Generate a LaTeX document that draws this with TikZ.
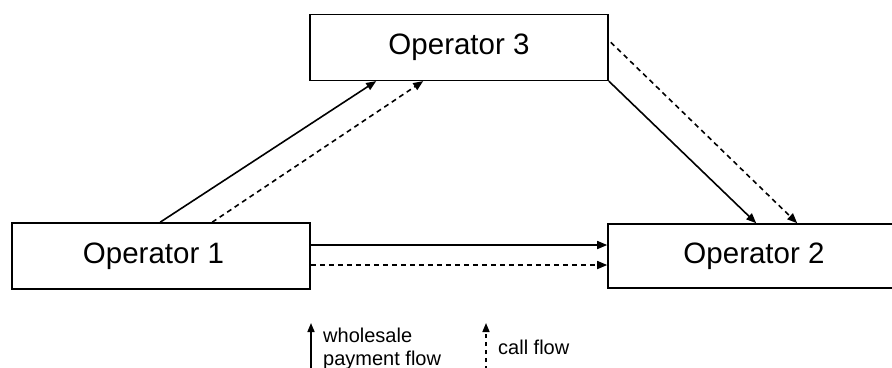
\documentclass[tikz,border=0pt]{standalone}
\usepackage{fontspec}
\setmainfont{Liberation Sans}
\usetikzlibrary{arrows.meta,calc}
\begin{document}
\begin{tikzpicture}[x=1pt,y=-1pt,
  opbox/.style={draw=black,line width=1.6pt,fill=white,inner sep=0pt,
    font=\fontsize{29.5}{34}\selectfont},
  flow/.style={line width=1.6pt,-{Triangle[length=10pt,width=8pt]}},
  callflow/.style={flow,dash pattern=on 5pt off 4pt},
  legtext/.style={font=\fontsize{20}{24}\selectfont,inner sep=0pt,anchor=base west,align=left}
]
\useasboundingbox (0,0) rectangle (892,367);
\fill[white] (0,0) rectangle (892,367);

\node[opbox,minimum width=298pt,minimum height=66pt] (op3) at (459,47.3) {\raisebox{-2pt}{Operator 3}};
\node[opbox,minimum width=298pt,minimum height=66pt] (op1) at (161,256) {\raisebox{-1pt}{Operator 1}\hspace*{15pt}};
\node[opbox,minimum width=292pt,minimum height=64pt] (op2) at (754,256) {Operator 2};

% Operator 1 -> Operator 3
\draw[flow] ($(op1.north west)+(149,0)$) -- ($(op3.south west)+(67,0)$);
\draw[callflow] ($(op1.north west)+(201,0)$) -- ($(op3.south west)+(114,0)$);
% Operator 3 -> Operator 2
\draw[flow] (op3.south east) -- ($(op2.north west)+(149,0)$);
\draw[callflow] ($(op3.east)+(2,-5)$) -- ($(op2.north west)+(190,0)$);
% Operator 1 -> Operator 2
\coordinate (h1s) at ($(op1.east)+(0,-11)$);
\coordinate (h2s) at ($(op1.east)+(0,9)$);
\draw[flow] (h1s) -- (h1s -| op2.west);
\draw[callflow] (h2s) -- (h2s -| op2.west);

% legend
\coordinate (l1b) at (311,370);
\coordinate (l1t) at (311,323);
\coordinate (l2b) at (486,370);
\coordinate (l2t) at (486,323);
\draw[flow,-{Triangle[length=9pt,width=7pt]}] (l1b) -- (l1t);
\draw[flow,dash pattern=on 4pt off 4pt,-{Triangle[length=9pt,width=7pt]}] (l2b) -- (l2t);
\node[legtext] (lt1) at (323,342) {wholesale};
\node[legtext] (lt1b) at (323,365) {payment flow};
\node[legtext] (lt2) at (498,354) {call flow};
\end{tikzpicture}
\end{document}
